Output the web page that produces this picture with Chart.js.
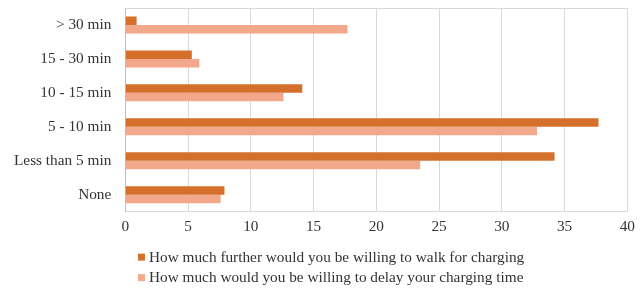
<!DOCTYPE html>
<html>
<head>
<meta charset="utf-8">
<script src="https://cdn.jsdelivr.net/npm/chart.js@4"></script>
<style>
  html, body { margin: 0; padding: 0; background: #fff; }
  #wrap { width: 641px; height: 289px; }
</style>
</head>
<body>
<div id="wrap"><canvas id="chart"></canvas></div>
<script>
// Datos
const categories = ["> 30 min", "15 - 30 min", "10 - 15 min", "5 - 10 min", "Less than 5 min", "None"];
const walkValues = [0.9, 5.3, 14.1, 37.7, 34.2, 7.9];
const delayValues = [17.7, 5.9, 12.6, 32.8, 23.5, 7.6];
const seriesLabels = [
  "How much further would you be willing to walk for charging",
  "How much would you be willing to delay your charging time"
];
const xTicks = [0, 5, 10, 15, 20, 25, 30, 35, 40];

const FONT = "'Liberation Serif', 'Times New Roman', serif";
const FSIZE = 15.3;

// Borde superior del area de trazado
const frameBox = {
  id: "frameBox",
  beforeDatasetsDraw(chart) {
    const { ctx, chartArea: a } = chart;
    ctx.save();
    ctx.strokeStyle = "#d9d9d9";
    ctx.lineWidth = 1;
    ctx.beginPath();
    ctx.moveTo(a.left, a.top + 0.5);
    ctx.lineTo(a.right, a.top + 0.5);
    ctx.stroke();
    ctx.restore();
  }
};

// Leyenda vertical, dibujada a mano
const stackedLegend = {
  id: "stackedLegend",
  afterDraw(chart) {
    const { ctx } = chart;
    const a = chart.chartArea;
    ctx.save();
    ctx.font = FSIZE + "px " + FONT;
    ctx.textBaseline = "middle";
    chart.data.datasets.forEach((ds, i) => {
      const y = a.bottom + 46 + i * 20.5;
      const x = 138;
      ctx.fillStyle = ds.backgroundColor;
      ctx.fillRect(x, y - 4, 7, 7);
      ctx.fillStyle = "#333";
      ctx.fillText(ds.label, x + 11, y);
    });
    ctx.restore();
  }
};

const ctx = document.getElementById("chart").getContext("2d");
new Chart(ctx, {
  type: "bar",
  data: {
    labels: categories,
    datasets: [
      { label: seriesLabels[0], data: walkValues, backgroundColor: "#D4702C" },
      { label: seriesLabels[1], data: delayValues, backgroundColor: "#F2A88A" }
    ]
  },
  options: {
    indexAxis: "y",
    responsive: true,
    maintainAspectRatio: false,
    animation: false,
    datasets: {
      bar: { categoryPercentage: 0.5, barPercentage: 1.0 }
    },
    layout: { padding: { top: 8, right: 10, bottom: 47, left: 0 } },
    scales: {
      x: {
        min: 0,
        max: 40,
        afterBuildTicks: (axis) => { axis.ticks = xTicks.map(v => ({ value: v })); },
        grid: { color: "#d9d9d9", drawTicks: false },
        border: { color: "#d9d9d9" },
        ticks: { color: "#333", font: { family: FONT, size: FSIZE }, padding: 6 }
      },
      y: {
        grid: { display: false, drawTicks: false },
        border: { color: "#bfbfbf" },
        ticks: { color: "#333", font: { family: FONT, size: FSIZE }, padding: 14 },
        afterFit: (scale) => { scale.paddingTop = 0; scale.paddingBottom = 0; }
      }
    },
    plugins: {
      legend: { display: false },
      tooltip: { enabled: false }
    }
  },
  plugins: [frameBox, stackedLegend]
});
</script>
</body>
</html>
